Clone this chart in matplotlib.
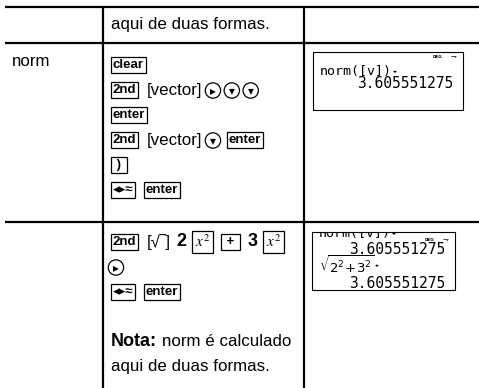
import matplotlib
matplotlib.use('Agg')
import matplotlib.pyplot as plt
from matplotlib.patches import Rectangle
from matplotlib.transforms import Bbox, TransformedBbox

plt.rcParams['font.family'] = ['Liberation Sans', 'DejaVu Sans']

# table content
top_text = 'aqui de duas formas.'
func_name = 'norm'
steps_a = [
    [('key', 'clear')],
    [('key', '2nd'), ('txt', '[vector]'), ('circ', '▸'), ('circ', '▾'), ('circ', '▾')],
    [('key', 'enter')],
    [('key', '2nd'), ('txt', '[vector]'), ('circ', '▾'), ('key', 'enter')],
    [('key', ' ) ')],
    [('key', '◂▸≈'), ('key', 'enter')],
]
steps_b = [
    [('key', '2nd'), ('txt', '[√‾]'), ('bold', '2'), ('keym', r'$x^2$'), ('key', ' + '),
     ('bold', '3'), ('keym', r'$x^2$')],
    [('circ', '▸')],
    [('key', '◂▸≈'), ('key', 'enter')],
    [],
    [('bold', 'Nota:'), ('txt', 'norm é calculado')],
    [('txt', 'aqui de duas formas.')],
]
screen_a = ['norm([v])', '3.605551275']
screen_b = ['norm([v])', '3.605551275', r'$\sqrt{2^2\!+\!3^2}$', '3.605551275']

fig = plt.figure(figsize=(4.79, 3.88), dpi=100)
ax = fig.add_axes([0, 0, 1, 1])
ax.set_xlim(0, 479)
ax.set_ylim(388, 0)
ax.axis('off')
renderer = fig.canvas.get_renderer()

lw = 1.6
for y in [7, 43, 222]:
    ax.plot([5, 479], [y, y], color='black', lw=lw, solid_capstyle='butt')
for x in [103, 304]:
    ax.plot([x, x], [7, 388], color='black', lw=lw, solid_capstyle='butt')

FS = 12.2


def right_edge(t):
    bb = t.get_window_extent(renderer)
    return ax.transData.inverted().transform((bb.x1, 0))[0]


def draw_row(x, y, items):
    for kind, s in items:
        if kind == 'key':
            t = ax.text(x + 2, y, s, fontsize=9.5, fontweight='bold', va='center',
                        bbox=dict(boxstyle='square,pad=0.15', fc='white', ec='black', lw=0.9))
            x = right_edge(t) + 2 + 8
        elif kind == 'keym':
            t = ax.text(x + 3, y, s, fontsize=11, va='center', math_fontfamily='stix',
                        bbox=dict(boxstyle='square,pad=0.18', fc='white', ec='black', lw=0.9))
            x = right_edge(t) + 3 + 8
        elif kind == 'circ':
            t = ax.text(x + 2, y + 0.5, s, fontsize=8.5, va='center', family='DejaVu Sans',
                        bbox=dict(boxstyle='circle,pad=0.1', fc='white', ec='black', lw=0.9))
            x = right_edge(t) + 3 + 8
        elif kind == 'bold':
            t = ax.text(x, y, s, fontsize=13, fontweight='bold', va='center')
            x = right_edge(t) + 5
        else:
            t = ax.text(x, y, s, fontsize=FS, va='center')
            x = right_edge(t) + 6


ax.text(111, 25, top_text, fontsize=FS, va='center')
ax.text(12, 62, func_name, fontsize=FS, va='center')

for i, row in enumerate(steps_a):
    draw_row(111, 65 + i * 25, row)
for i, row in enumerate(steps_b):
    draw_row(111, 242 + i * 25, row)


def screen(x0, y0, x1, y1, lines, ys, ind_y):
    rect = Rectangle((x0, y0), x1 - x0, y1 - y0, fc='white', ec='black', lw=0.8)
    ax.add_patch(rect)
    clip = TransformedBbox(Bbox.from_extents(x0, y0, x1, y1), ax.transData)
    ax.text(x1 - 30, ind_y, 'DEG', fontsize=3, fontweight='bold', va='center', family='DejaVu Sans')
    ax.text(x1 - 12, ind_y, '⇁', fontsize=5, va='center', family='DejaVu Sans')
    for j, (s, yy) in enumerate(zip(lines, ys)):
        if j % 2 == 0:
            t = ax.text(x0 + 7, yy, s, fontsize=9.5, va='center', family='DejaVu Sans Mono')
            t2 = ax.text(right_edge(t) + 1, yy + 1, '◂▸', fontsize=3.5, va='center',
                         family='DejaVu Sans')
            t2.set_clip_box(clip)
            t2.set_clip_on(True)
        else:
            t = ax.text(x1 - 10, yy, s, fontsize=10.5, ha='right', va='center',
                        family='DejaVu Sans Mono')
        t.set_clip_box(clip)
        t.set_clip_on(True)


screen(313, 52, 463, 110, screen_a, [71, 83], 57)
screen(312, 232, 455, 290, screen_b, [233, 249, 265, 284], 240)

fig.savefig('out.png', dpi=100)
